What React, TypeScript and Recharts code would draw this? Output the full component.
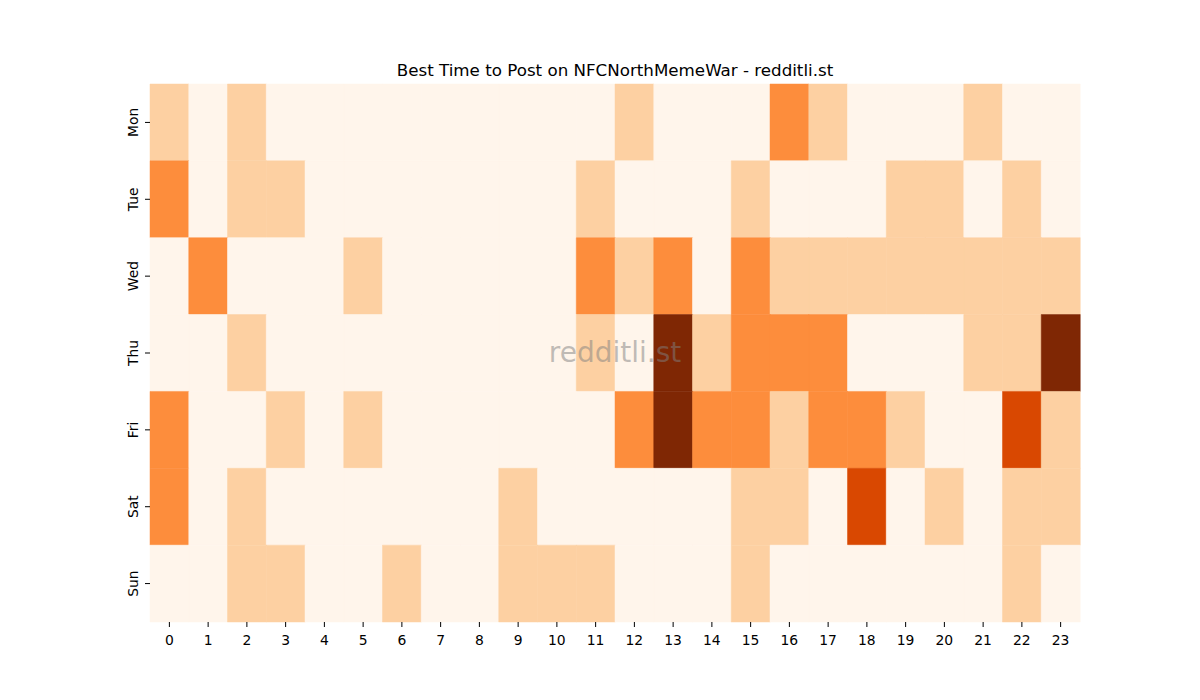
import React from 'react';
import { BarChart, Bar, XAxis, YAxis, Cell } from 'recharts';

const hours = Array.from({ length: 24 }, (_, i) => i);
const days = ['Mon', 'Tue', 'Wed', 'Thu', 'Fri', 'Sat', 'Sun'];

// activity level per hour (0..4)
const mon = [1, 0, 1, 0, 0, 0, 0, 0, 0, 0, 0, 0, 1, 0, 0, 0, 2, 1, 0, 0, 0, 1, 0, 0];
const tue = [2, 0, 1, 1, 0, 0, 0, 0, 0, 0, 0, 1, 0, 0, 0, 1, 0, 0, 0, 1, 1, 0, 1, 0];
const wed = [0, 2, 0, 0, 0, 1, 0, 0, 0, 0, 0, 2, 1, 2, 0, 2, 1, 1, 1, 1, 1, 1, 1, 1];
const thu = [0, 0, 1, 0, 0, 0, 0, 0, 0, 0, 0, 1, 0, 4, 1, 2, 2, 2, 0, 0, 0, 1, 1, 4];
const fri = [2, 0, 0, 1, 0, 1, 0, 0, 0, 0, 0, 0, 2, 4, 2, 2, 1, 2, 2, 1, 0, 0, 3, 1];
const sat = [2, 0, 1, 0, 0, 0, 0, 0, 0, 1, 0, 0, 0, 0, 0, 1, 1, 0, 3, 0, 1, 0, 1, 1];
const sun = [0, 0, 1, 1, 0, 0, 1, 0, 0, 1, 1, 1, 0, 0, 0, 1, 0, 0, 0, 0, 0, 0, 1, 0];

const levels = [mon, tue, wed, thu, fri, sat, sun];
const palette = ['#fff5eb', '#fdd0a2', '#fd8d3c', '#d94801', '#7f2704'];

// every cell is one unit tall, stacked per hour
const data = hours.map((h) => {
  const row: Record<string, number> = { hour: h };
  days.forEach((d) => (row[d] = 1));
  return row;
});

const font = 'DejaVu Sans, sans-serif';

const DayTick = ({ x, y, payload }: any) => (
  <g transform={`translate(${x - 5},${y})`}>
    <text transform="rotate(-90)" textAnchor="middle" fill="#000" fontSize={13.9} fontFamily={font}>
      {days[Math.floor(payload.value)]}
    </text>
  </g>
);

export default function App() {
  return (
    <div style={{ position: 'absolute', left: 0, top: 0, width: 1200, height: 700, background: '#fff' }}>
      <BarChart
        width={1200}
        height={700}
        data={data}
        margin={{ top: 84, right: 120, left: 100, bottom: 48 }}
        barCategoryGap={0}
        barGap={0}
      >
        <XAxis
          dataKey="hour"
          type="category"
          interval={0}
          axisLine={false}
          tickLine={{ stroke: '#000' }}
          tickSize={5}
          tickMargin={8}
          height={30}
          tick={{ fill: '#000', fontSize: 13.9, fontFamily: font }}
        />
        <YAxis
          type="number"
          domain={[0, 7]}
          reversed
          ticks={[0.5, 1.5, 2.5, 3.5, 4.5, 5.5, 6.5]}
          axisLine={false}
          tickLine={{ stroke: '#000' }}
          tickSize={5}
          width={50}
          tick={<DayTick />}
        />
        {days.map((d, di) => (
          <Bar key={d} dataKey={d} stackId="a" isAnimationActive={false}>
            {hours.map((h) => (
              <Cell
                key={h}
                fill={palette[levels[di][h]]}
                stroke={palette[levels[di][h]]}
                strokeWidth={0.5}
              />
            ))}
          </Bar>
        ))}
      </BarChart>
      <svg
        width={1200}
        height={700}
        style={{ position: 'absolute', left: 0, top: 0, pointerEvents: 'none' }}
      >
        <text x={615} y={76} textAnchor="middle" fontSize={16.7} fontFamily={font} fill="#000">
          Best Time to Post on NFCNorthMemeWar - redditli.st
        </text>
        <text x={615} y={362} textAnchor="middle" fontSize={28} fontFamily={font} fill="#808080" fillOpacity={0.5}>
          redditli.st
        </text>
      </svg>
    </div>
  );
}
